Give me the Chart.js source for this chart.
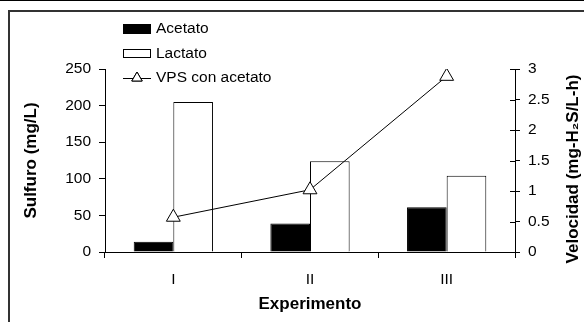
<!DOCTYPE html>
<html lang="es">
<head>
    <meta charset="UTF-8">
    <title>Sulfuro y velocidad por experimento</title>
    <script src="https://cdn.jsdelivr.net/npm/chart.js"></script>
    <style>
        * {
            margin: 0;
            padding: 0;
            box-sizing: border-box;
        }
        body {
            background: #fff;
            width: 584px;
            height: 322px;
            overflow: hidden;
            position: relative;
            border-top: 1px solid #000;
        }
        #frame {
            position: absolute;
            left: 8px;
            top: 9px;
            right: -4px;
            bottom: -4px;
            border-left: 2px solid #333;
            border-top: 2px solid #333;
        }
        #myChart {
            position: absolute;
            left: 0;
            top: -1px;
        }
    </style>
</head>
<body>
    <div id="frame"></div>
    <canvas id="myChart" width="584" height="322"></canvas>

    <script>
        const experimentos = ['I', 'II', 'III'];
        const acetato = [14, 39, 61];          // mg/L
        const lactato = [205, 124, 104];       // mg/L
        const vpsAcetato = [0.57, 1.02, 2.88]; // mg-H2S/L-h

        const sulfuroMax = 250, sulfuroStep = 50;
        const velocidadMax = 3, velocidadStep = 0.5;

        const FONT = '"Liberation Sans", Arial, sans-serif';

        // legend drawn by hand, top left like the original
        const legendPlugin = {
            id: 'customLegend',
            afterDraw(chart) {
                const ctx = chart.ctx;
                const ds = chart.data.datasets;
                ctx.save();
                ctx.font = '15.5px ' + FONT;
                ctx.fillStyle = '#000';
                ctx.textBaseline = 'middle';

                // Acetato
                ctx.fillStyle = ds[0].backgroundColor;
                ctx.fillRect(123, 24, 28, 10);
                ctx.fillStyle = '#000';
                ctx.fillText(ds[0].label, 156, 29);

                // Lactato
                ctx.strokeStyle = '#000';
                ctx.lineWidth = 1;
                ctx.fillStyle = ds[1].backgroundColor;
                ctx.fillRect(123.5, 49.5, 27, 8);
                ctx.strokeRect(123.5, 49.5, 27, 8);
                ctx.fillStyle = '#000';
                ctx.fillText(ds[1].label, 156, 53.5);

                // VPS line
                ctx.beginPath();
                ctx.moveTo(123, 78.5);
                ctx.lineTo(151, 78.5);
                ctx.stroke();
                Chart.helpers.drawPoint(ctx, {
                    pointStyle: 'triangle', radius: 6, borderWidth: 1
                }, 137, 78);
                ctx.fillStyle = '#fff';
                ctx.fill();
                ctx.stroke();
                ctx.fillStyle = '#000';
                ctx.fillText(ds[2].label, 156, 78);

                // right axis title, reads bottom to top
                ctx.font = 'bold 17px ' + FONT;
                ctx.textAlign = 'center';
                ctx.translate(573, 169);
                ctx.rotate(-Math.PI / 2);
                ctx.fillText('Velocidad (mg-H\u2082S/L-h)', 0, 0);
                ctx.restore();

                // inner half of the right axis ticks
                const y1 = chart.scales.y1;
                ctx.save();
                ctx.strokeStyle = '#000';
                ctx.lineWidth = 1;
                ctx.beginPath();
                y1.ticks.forEach(t => {
                    const py = Math.round(y1.getPixelForValue(t.value)) + 0.5;
                    ctx.moveTo(y1.left - 5, py);
                    ctx.lineTo(y1.left, py);
                });
                ctx.stroke();
                ctx.restore();
            }
        };

        const ctx = document.getElementById('myChart').getContext('2d');

        const chart = new Chart(ctx, {
            type: 'bar',
            data: {
                labels: experimentos,
                datasets: [
                    { label: 'Acetato', data: acetato, backgroundColor: '#000', borderColor: '#000', borderWidth: 1, yAxisID: 'y', order: 1, categoryPercentage: 0.58, barPercentage: 1.0 },
                    { label: 'Lactato', data: lactato, backgroundColor: '#fff', borderColor: '#000', borderWidth: 1, yAxisID: 'y', order: 1, categoryPercentage: 0.58, barPercentage: 1.0 },
                    { type: 'line', label: 'VPS con acetato', data: vpsAcetato, yAxisID: 'y1', order: 0, borderColor: '#000', borderWidth: 1, pointStyle: 'triangle', pointRadius: 8, pointBackgroundColor: '#fff', pointBorderColor: '#000', pointBorderWidth: 1, tension: 0 }
                ]
            },
            options: {
                responsive: false,
                animation: false,
                devicePixelRatio: 1,
                layout: { padding: { top: 69, left: 0, right: 0, bottom: 0 } },
                plugins: {
                    legend: { display: false },
                    tooltip: { enabled: false }
                },
                scales: {
                    x: {
                        afterFit: s => { s.height = 70; },
                        grid: { display: true, drawOnChartArea: false, offset: true, tickLength: 6, color: '#000' },
                        border: { color: '#000' },
                        ticks: { color: '#000', padding: 12, font: { family: FONT, size: 15.5 } },
                        title: {
                            display: true,
                            text: 'Experimento',
                            color: '#000',
                            font: { family: FONT, size: 17, weight: 'bold' },
                            padding: { top: 0, bottom: 7 }
                        }
                    },
                    y: {
                        position: 'left',
                        min: 0,
                        max: sulfuroMax,
                        afterFit: s => { s.width = 105; },
                        grid: { drawOnChartArea: false, tickLength: 6, color: '#000' },
                        border: { color: '#000' },
                        ticks: { stepSize: sulfuroStep, color: '#000', padding: 8, font: { family: FONT, size: 15.5 } },
                        title: {
                            display: true,
                            text: 'Sulfuro (mg/L)',
                            color: '#000',
                            font: { family: FONT, size: 17, weight: 'bold' },
                            padding: { top: 21, bottom: 0 }
                        }
                    },
                    y1: {
                        position: 'right',
                        min: 0,
                        max: velocidadMax,
                        afterFit: s => { s.width = 69; },
                        grid: { drawOnChartArea: false, tickLength: 5, color: '#000' },
                        border: { color: '#000' },
                        ticks: {
                            stepSize: velocidadStep,
                            color: '#000',
                            padding: 8,
                            font: { family: FONT, size: 15.5 },
                            callback: v => String(v)
                        }
                    }
                }
            },
            plugins: [legendPlugin]
        });
    </script>
</body>
</html>
